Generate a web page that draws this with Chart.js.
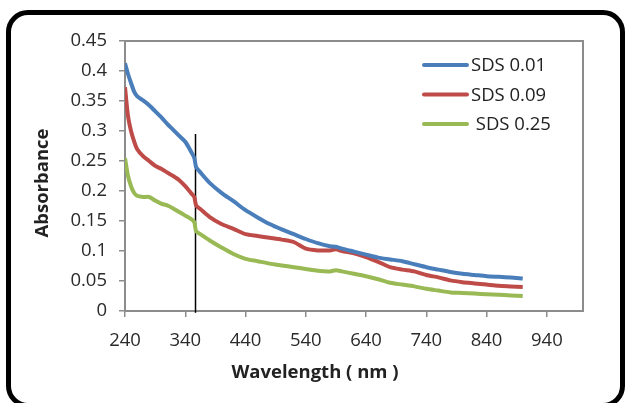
<!DOCTYPE html>
<html><head><meta charset="utf-8">
<script src="https://cdn.jsdelivr.net/npm/chart.js@4"></script>
<style>
html,body{margin:0;padding:0;background:#fff;overflow:hidden}
#wrap{position:relative;width:625px;height:403px;overflow:hidden;background:#fff}
#frame{position:absolute;left:6px;top:10px;width:609px;height:388px;border:5px solid #000;border-radius:22px;box-sizing:content-box;pointer-events:none}
canvas{position:absolute;left:0;top:0}
</style></head><body>
<div id="wrap"><canvas id="c" width="625" height="403"></canvas><div id="frame"></div></div>
<script>
const wavelengths = [240,245,250,255,260,270,280,290,300,310,320,330,340,350,355,358,365,380,400,420,440,460,480,500,520,540,560,580,590,600,620,640,660,680,700,720,740,760,780,800,820,840,860,880,900];
const sds001 = [0.413,0.395,0.380,0.366,0.358,0.351,0.343,0.333,0.323,0.312,0.302,0.292,0.282,0.265,0.255,0.240,0.231,0.214,0.197,0.183,0.168,0.156,0.145,0.136,0.128,0.120,0.113,0.108,0.107,0.104,0.099,0.094,0.089,0.086,0.083,0.078,0.073,0.069,0.065,0.062,0.060,0.058,0.057,0.056,0.054];
const sds009 = [0.373,0.325,0.300,0.283,0.270,0.258,0.250,0.242,0.237,0.231,0.225,0.218,0.208,0.196,0.190,0.176,0.170,0.157,0.145,0.137,0.128,0.125,0.122,0.119,0.115,0.104,0.101,0.101,0.103,0.100,0.096,0.090,0.082,0.073,0.069,0.066,0.060,0.056,0.051,0.048,0.046,0.044,0.042,0.041,0.040];
const sds025 = [0.255,0.225,0.208,0.197,0.192,0.190,0.190,0.184,0.179,0.176,0.171,0.165,0.159,0.153,0.148,0.133,0.128,0.118,0.106,0.095,0.087,0.083,0.079,0.076,0.073,0.070,0.067,0.066,0.068,0.066,0.062,0.058,0.053,0.047,0.044,0.041,0.037,0.034,0.031,0.030,0.029,0.028,0.027,0.026,0.025];
const seriesLabels = ['SDS 0.01','SDS 0.09',' SDS 0.25'];
const markerX = [357,357];
const markerY = [-0.003,0.295];
const xTicks = [240,340,440,540,640,740,840,940];
const yTicks = [0,0.05,0.1,0.15,0.2,0.25,0.3,0.35,0.4,0.45];
const yTickLabels = ['0','0.05','0.1','0.15','0.2','0.25','0.3','0.35','0.4','0.45'];
const xTitle = 'Wavelength ( nm )';
const yTitle = 'Absorbance';

const colors = ['#4a7ebb','#be4b48','#98b954'];
const FONT = '"Open Sans"';
const toPts = (arr) => wavelengths.map((x,i)=>({x, y: arr[i]}));

const datasets = [sds001, sds009, sds025].map((arr,i)=>({
  label: seriesLabels[i], data: toPts(arr), borderColor: colors[i], backgroundColor: colors[i],
  borderWidth: 4, pointRadius: 0, tension: 0.25, fill: false
}));
datasets.push({label:'marker', isMarker:true, data: markerX.map((x,i)=>({x, y: markerY[i]})),
  borderColor:'#000', borderWidth:1.5, pointRadius:0, fill:false, clip:false});

const frameBox = {id:'plotBorder', beforeDatasetsDraw(chart){
  const {ctx, chartArea:a} = chart; ctx.save(); ctx.strokeStyle='#8c8c8c'; ctx.lineWidth=2;
  ctx.strokeRect(a.left, a.top, a.right-a.left, a.bottom-a.top); ctx.restore();
}};
const insideLegend = {id:'insideLegend', afterDatasetsDraw(chart){
  const ctx = chart.ctx; ctx.save();
  chart.data.datasets.filter(d=>!d.isMarker).forEach((d,i)=>{
    const y = 65 + i*29.5;
    ctx.strokeStyle = d.borderColor; ctx.lineWidth = 4; ctx.lineCap='round';
    ctx.beginPath(); ctx.moveTo(424,y); ctx.lineTo(467,y); ctx.stroke();
    ctx.fillStyle='#222'; ctx.font = '18.5px '+FONT; ctx.textBaseline='middle'; ctx.textAlign='left';
    ctx.fillText(d.label, 471, y+1);
  });
  ctx.restore();
}};
const axisTitles = {id:'axisTitles', afterDraw(chart){
  const ctx = chart.ctx; ctx.save();
  ctx.fillStyle='#222'; ctx.font='bold 18.5px '+FONT; ctx.textAlign='center'; ctx.textBaseline='middle';
  ctx.fillText(xTitle, 315, 373);
  ctx.translate(43, 183); ctx.rotate(-Math.PI/2); ctx.fillText(yTitle, 0, 0);
  ctx.restore();
}};

new Chart(document.getElementById('c'), {
  type:'line',
  data:{datasets},
  options:{
    responsive:false, animation:false, devicePixelRatio:1,
    layout:{padding:{top:41,right:42,left:0,bottom:0}},
    plugins:{legend:{display:false}, tooltip:{enabled:false}},
    scales:{
      x:{type:'linear', min:240, max:1000,
        afterBuildTicks:(s)=>{ s.ticks = xTicks.map(v=>({value:v})); },
        afterFit:(s)=>{ s.height = 92; },
        ticks:{font:{family:FONT,size:18.5}, color:'#2a2a2a', padding:13, maxRotation:0, autoSkip:false},
        grid:{display:true, drawOnChartArea:false, drawTicks:true, tickLength:6, color:'#8c8c8c', lineWidth:1.5},
        border:{display:true, color:'#8c8c8c', width:2}},
      y:{min:0, max:0.45,
        afterBuildTicks:(s)=>{ s.ticks = yTicks.map(v=>({value:v})); },
        afterFit:(s)=>{ s.width = 125; },
        ticks:{font:{family:FONT,size:18.5}, color:'#2a2a2a', padding:12, autoSkip:false,
          callback:(v,i)=>yTickLabels[i]},
        grid:{display:true, drawOnChartArea:false, drawTicks:true, tickLength:6, color:'#8c8c8c', lineWidth:1.5},
        border:{display:true, color:'#8c8c8c', width:2}}
    }
  },
  plugins:[frameBox, insideLegend, axisTitles]
});
</script>
</body></html>
